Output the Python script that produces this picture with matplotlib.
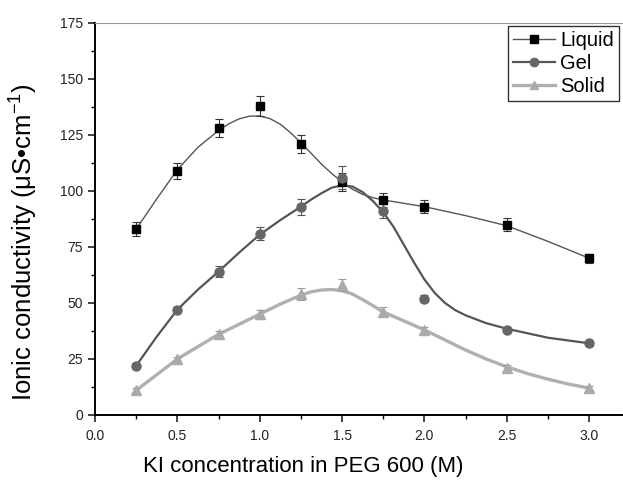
import matplotlib.pyplot as plt
from matplotlib.ticker import MultipleLocator

plt.rcParams['font.family'] = ['Liberation Sans', 'DejaVu Sans']
plt.rcParams['mathtext.fontset'] = 'custom'
plt.rcParams['mathtext.rm'] = 'Liberation Sans'
plt.rcParams['mathtext.it'] = 'Liberation Sans'

# measured points
conc = [0.25, 0.5, 0.75, 1.0, 1.25, 1.5, 1.75, 2.0, 2.5, 3.0]
liquid = [83, 109, 128, 138, 121, 104, 96, 93, 85, 70]
liquid_err = [3, 3.5, 4, 4.5, 4, 4, 3, 3, 3, 2]
gel = [22, 47, 64, 81, 93, 106, 91, 52, 38, 32]
gel_err = [1, 1, 2.5, 3, 3.5, 5, 3, 1.5, 1, 1]
solid = [11, 25, 36, 45, 54, 58, 46, 38, 21, 12]
solid_err = [1, 1, 1.5, 2, 2.5, 2.5, 2, 1.5, 1.5, 1]

# fitted curves
liquid_fit_x = [0.25, 0.375, 0.5, 0.625, 0.75, 0.8125, 0.875, 0.9375, 1.0, 1.0625,
                1.125, 1.1875, 1.25, 1.3125, 1.375, 1.4375, 1.5, 1.5625, 1.625,
                1.6875, 1.75, 1.875, 2.0, 2.25, 2.5, 2.75, 3.0]
liquid_fit = [83, 96.5, 109.5, 119.5, 127, 130, 132.2, 133.4, 133.5, 132.3,
              129.8, 126, 121.5, 116.8, 112, 107.8, 104, 100.8, 98.5,
              97, 96, 94.5, 93, 89, 84.5, 77.5, 70]
gel_fit_x = [0.25, 0.375, 0.5, 0.625, 0.75, 0.875, 1.0, 1.125, 1.25, 1.3125,
             1.375, 1.4375, 1.5, 1.5625, 1.625, 1.6875, 1.75, 1.8125, 1.875,
             1.9375, 2.0, 2.0625, 2.125, 2.1875, 2.25, 2.375, 2.5, 2.75, 3.0]
gel_fit = [22, 35, 47, 56, 64, 72.5, 80.5, 87, 93, 96.2,
           99, 101.5, 102.5, 102, 99.5, 95.5, 90.5, 84, 76,
           68, 60.5, 54.5, 50, 46.8, 44.5, 41, 38.5, 34.5, 32]
solid_fit_x = [0.25, 0.375, 0.5, 0.625, 0.75, 0.875, 1.0, 1.125, 1.25, 1.3125,
               1.375, 1.4375, 1.5, 1.5625, 1.625, 1.6875, 1.75, 1.875, 2.0,
               2.125, 2.25, 2.375, 2.5, 2.625, 2.75, 2.875, 3.0]
solid_fit = [11, 18, 25, 30.5, 36, 40.5, 45, 49.5, 53.5, 55,
             55.8, 56, 55.5, 54, 51.5, 48.8, 46, 42, 38,
             33.5, 29, 25, 21.5, 18.5, 16, 13.8, 12]

fig = plt.figure(figsize=(6.23, 4.83), dpi=100)
ax = fig.add_axes([0.1525, 0.1408, 0.846, 0.8116])

c_liq, c_gel, c_sol = 'black', '#666666', '#aaaaaa'

ax.plot(liquid_fit_x, liquid_fit, color='#555555', lw=1.0)
ax.plot(gel_fit_x, gel_fit, color='#555555', lw=1.6)
ax.plot(solid_fit_x, solid_fit, color='#b0b0b0', lw=2.4)

ax.errorbar(conc, liquid, yerr=liquid_err, fmt='s', color=c_liq, ms=6,
            ecolor='#333333', elinewidth=0.8, capsize=3, capthick=0.8)
ax.errorbar(conc, gel, yerr=gel_err, fmt='o', color=c_gel, ms=6.5,
            ecolor='#555555', elinewidth=0.8, capsize=3, capthick=0.8)
ax.errorbar(conc, solid, yerr=solid_err, fmt='^', color=c_sol, ms=6.5,
            ecolor='#999999', elinewidth=0.8, capsize=3, capthick=0.8)

# legend proxies
h1, = ax.plot([], [], color='#555555', lw=1.0, marker='s', mfc=c_liq, mec=c_liq, ms=5.5)
h2, = ax.plot([], [], color='#555555', lw=1.6, marker='o', mfc=c_gel, mec=c_gel, ms=6)
h3, = ax.plot([], [], color='#b0b0b0', lw=2.4, marker='^', mfc=c_sol, mec=c_sol, ms=6)
leg = ax.legend([h1, h2, h3], ['Liquid', 'Gel', 'Solid'], loc='upper right',
                fontsize=14.5, frameon=True, fancybox=False, edgecolor='black',
                handlelength=2.1, handletextpad=0.25, borderpad=0.25,
                labelspacing=0.2, borderaxespad=0.15)
leg.get_frame().set_linewidth(1.0)

ax.set_xlim(0, 3.2)
ax.set_ylim(0, 175)
ax.xaxis.set_major_locator(MultipleLocator(0.5))
ax.xaxis.set_minor_locator(MultipleLocator(0.25))
ax.yaxis.set_major_locator(MultipleLocator(25))
ax.yaxis.set_minor_locator(MultipleLocator(12.5))
ax.set_xticks([0, 0.5, 1.0, 1.5, 2.0, 2.5, 3.0])
ax.set_xticklabels(['0.0', '0.5', '1.0', '1.5', '2.0', '2.5', '3.0'])
ax.tick_params(which='major', direction='out', length=5, width=1.2, labelsize=10,
               colors='#222222')
ax.tick_params(which='minor', direction='out', length=3, width=1.0)
ax.tick_params(axis='x', pad=5)

ax.spines['right'].set_visible(False)
ax.spines['top'].set_color('#999999')
ax.spines['left'].set_linewidth(1.4)
ax.spines['bottom'].set_linewidth(1.4)

ax.set_xlabel('KI concentration in PEG 600 (M)', fontsize=16)
ax.set_ylabel('Ionic conductivity (μS•cm$^{-1}$)', fontsize=18.5)
ax.xaxis.set_label_coords(0.396, -0.105)
ax.yaxis.set_label_coords(-0.105, 0.44)

fig.savefig('out.png', dpi=100)
